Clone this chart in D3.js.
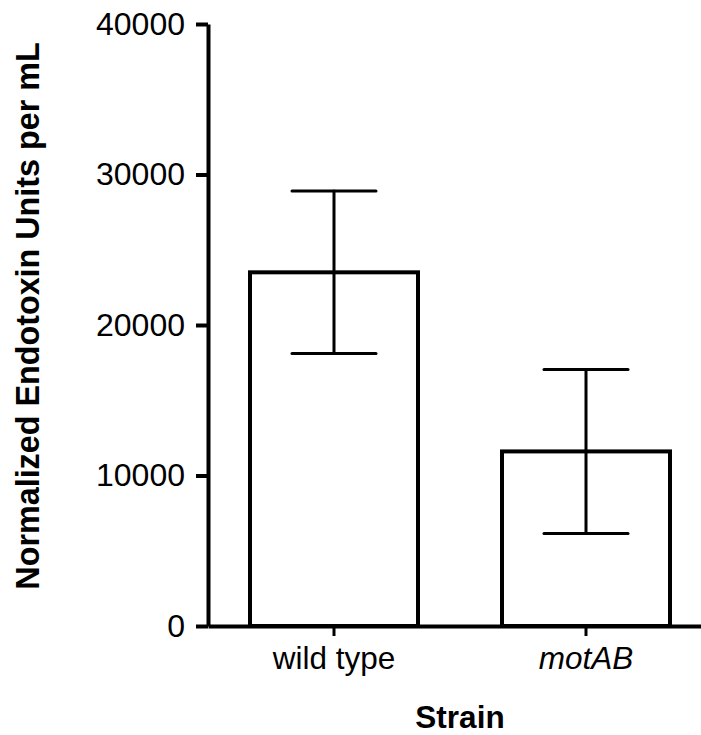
<!DOCTYPE html>
<html><head><meta charset="utf-8">
<script src="https://cdn.jsdelivr.net/npm/d3@7"></script>
<style>body{margin:0;background:#fff}svg{display:block}text{font-family:"Liberation Sans",Arial,sans-serif}</style>
</head><body>
<svg id="c" width="701" height="735"></svg>
<script>
const categories = ["wild type", "motAB"];
const means = [23500, 11600];
const errors = [5400, 5450];
const yTicks = [0, 10000, 20000, 30000, 40000];

const svg = d3.select("#c");
const x = d3.scaleBand().domain(categories).range([208, 712]).paddingInner(1/3).paddingOuter(1/6);
const y = d3.scaleLinear().domain([0, 40000]).range([626, 24]);

// bars
svg.selectAll("rect.bar").data(categories).join("rect")
  .attr("x", d => x(d)).attr("width", x.bandwidth())
  .attr("y", (d,i) => y(means[i])).attr("height", (d,i) => y(0) - y(means[i]))
  .attr("fill", "#fff").attr("stroke", "#000").attr("stroke-width", 4);

// error bars
const eb = svg.append("g").attr("stroke", "#000").attr("stroke-width", 3).attr("stroke-linecap", "round");
categories.forEach((c, i) => {
  const cx = x(c) + x.bandwidth() / 2, hw = x.bandwidth() / 4;
  eb.append("line").attr("x1", cx).attr("x2", cx).attr("y1", y(means[i] + errors[i])).attr("y2", y(means[i] - errors[i]));
  eb.append("line").attr("x1", cx - hw).attr("x2", cx + hw).attr("y1", y(means[i] + errors[i])).attr("y2", y(means[i] + errors[i]));
  eb.append("line").attr("x1", cx - hw).attr("x2", cx + hw).attr("y1", y(means[i] - errors[i])).attr("y2", y(means[i] - errors[i]));
});

// y axis
const ya = svg.append("g").attr("transform", "translate(208,0)")
  .call(d3.axisLeft(y).tickValues(yTicks).tickFormat(d3.format("d")).tickSize(12).tickPadding(11).tickSizeOuter(0));
ya.select(".domain").attr("stroke-width", 4);
ya.selectAll(".tick line").attr("stroke-width", 4);
ya.selectAll(".tick text").attr("font-size", 32).attr("fill", "#000").attr("font-family", "Liberation Sans, Arial, sans-serif");

// x axis
const xa = svg.append("g").attr("transform", "translate(0,626)")
  .call(d3.axisBottom(x).tickSize(10).tickPadding(11).tickSizeOuter(0));
xa.select(".domain").attr("stroke-width", 4);
xa.selectAll(".tick line").attr("stroke-width", 3);
xa.selectAll(".tick text").attr("font-size", 31.5).attr("fill", "#000")
  .attr("font-family", "Liberation Sans, Arial, sans-serif")
  .attr("font-style", d => d === "motAB" ? "italic" : "normal");

// axis titles
svg.append("text").attr("x", 460).attr("y", 728).attr("text-anchor", "middle")
  .attr("font-size", 31.5).attr("font-weight", "bold").text("Strain");
svg.append("text").attr("transform", "translate(39,316) rotate(-90)").attr("text-anchor", "middle")
  .attr("font-size", 32.3).attr("font-weight", "bold").text("Normalized Endotoxin Units per mL");
</script>
</body></html>
